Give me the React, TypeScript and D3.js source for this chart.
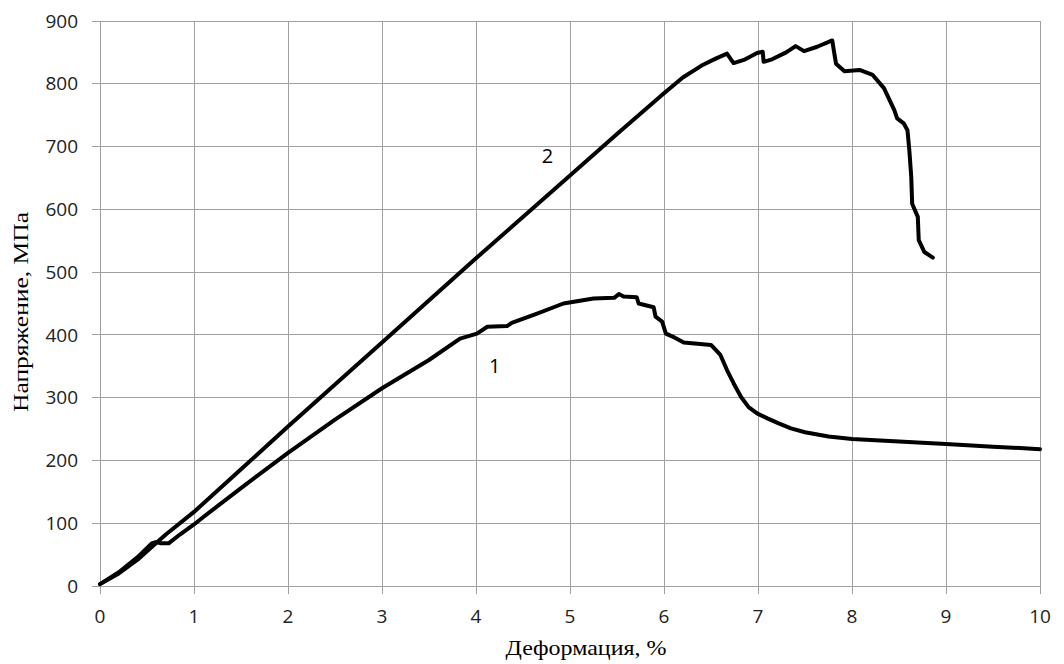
import React from "react";
import * as d3 from "d3";

// Strain, % and stress, MPa for specimen 1
const strain1 = [0, 0.2, 0.4, 0.55, 0.6, 0.65, 0.73, 0.85, 1.0, 1.1, 1.5, 2.0, 2.5, 3.0, 3.5, 3.83, 4.01, 4.12, 4.33, 4.38, 4.65, 4.93, 5.25, 5.47, 5.52, 5.57, 5.71, 5.73, 5.89, 5.91, 5.98, 6.02, 6.11, 6.21, 6.5, 6.6, 6.67, 6.74, 6.82, 6.9, 6.99, 7.1, 7.22, 7.35, 7.5, 7.75, 8.0, 8.5, 9.0, 9.5, 10.0];
const stress1 = [3, 22, 46, 68, 70, 68, 68, 82, 98, 110, 156, 212, 265, 315, 360, 394, 402, 413, 414, 419, 434, 450, 458, 459, 465, 461, 460, 450, 444, 429, 421, 402, 396, 388, 384, 368, 344, 323, 301, 285, 275, 267, 259, 251, 245, 238, 234, 230, 226, 222, 218];

// Strain, % and stress, MPa for specimen 2
const strain2 = [0, 0.2, 0.4, 0.55, 0.7, 1.0, 1.5, 2.0, 3.0, 4.0, 5.0, 5.5, 6.0, 6.2, 6.4, 6.55, 6.67, 6.74, 6.85, 6.99, 7.05, 7.06, 7.15, 7.3, 7.4, 7.49, 7.63, 7.79, 7.81, 7.83, 7.92, 8.08, 8.22, 8.34, 8.4, 8.45, 8.48, 8.55, 8.59, 8.61, 8.63, 8.64, 8.7, 8.71, 8.77, 8.86];
const stress2 = [3, 20, 42, 62, 82, 118, 186, 254, 388, 522, 654, 720, 785, 810, 829, 840, 848, 833, 838, 849, 851, 835, 839, 850, 860, 852, 859, 869, 850, 832, 820, 822, 814, 793, 774, 758, 745, 737, 726, 694, 652, 609, 588, 551, 532, 523];

const xTicks = [0, 1, 2, 3, 4, 5, 6, 7, 8, 9, 10];
const yTicks = [0, 100, 200, 300, 400, 500, 600, 700, 800, 900];

const curveLabels = [
  { text: "1", x: 4.2, y: 350 },
  { text: "2", x: 4.76, y: 685 },
];

const W = 1064;
const H = 664;
const plot = { left: 100, right: 1040, top: 21, bottom: 586 };

export default function App() {
  const x = d3.scaleLinear().domain([0, 10]).range([plot.left, plot.right]);
  const y = d3.scaleLinear().domain([0, 900]).range([plot.bottom, plot.top]);

  const line = d3
    .line<[number, number]>()
    .x((d) => x(d[0]))
    .y((d) => y(d[1]));

  const series = [
    strain1.map((v, i) => [v, stress1[i]] as [number, number]),
    strain2.map((v, i) => [v, stress2[i]] as [number, number]),
  ];

  const grid = "#a0a0a0";
  const tickFont = "'Open Sans', 'Noto Sans', sans-serif";
  const titleFont = "'Liberation Serif', 'DejaVu Serif', serif";

  return (
    <div style={{ position: "fixed", left: 0, top: 0 }}>
      <svg width={W} height={H} style={{ display: "block", background: "#fff" }}>
        {/* grid */}
        {xTicks.map((t) => (
          <line key={"gx" + t} x1={x(t)} x2={x(t)} y1={plot.top} y2={plot.bottom + 8} stroke={grid} strokeWidth={1} shapeRendering="crispEdges" />
        ))}
        {yTicks.map((t) => (
          <line key={"gy" + t} x1={plot.left - 8} x2={plot.right} y1={y(t)} y2={y(t)} stroke={grid} strokeWidth={1} shapeRendering="crispEdges" />
        ))}

        {/* tick labels */}
        {xTicks.map((t) => (
          <text key={"tx" + t} x={x(t)} y={623} textAnchor="middle" fontFamily={tickFont} fontSize={19} fill="#222">
            {t}
          </text>
        ))}
        {yTicks.map((t) => (
          <text key={"ty" + t} x={78} y={y(t)} dy="0.35em" textAnchor="end" fontFamily={tickFont} fontSize={19} fill="#222">
            {t}
          </text>
        ))}

        {/* curves */}
        {series.map((s, i) => (
          <path key={"s" + i} d={line(s) || ""} fill="none" stroke="#000" strokeWidth={4} strokeLinejoin="round" strokeLinecap="round" />
        ))}

        {curveLabels.map((l) => (
          <text key={"l" + l.text} x={x(l.x)} y={y(l.y)} dy="0.35em" textAnchor="middle" fontFamily={tickFont} fontSize={20} fill="#000">
            {l.text}
          </text>
        ))}

        {/* axis titles */}
        <text x={586} y={655} textAnchor="middle" fontFamily={titleFont} fontSize={22} textLength={161} lengthAdjust="spacingAndGlyphs" fill="#000">
          Деформация, %
        </text>
        <text transform={`translate(28, 312) rotate(-90)`} textAnchor="middle" fontFamily={titleFont} fontSize={22} textLength={200} lengthAdjust="spacingAndGlyphs" fill="#000">
          Напряжение, МПа
        </text>
      </svg>
    </div>
  );
}
